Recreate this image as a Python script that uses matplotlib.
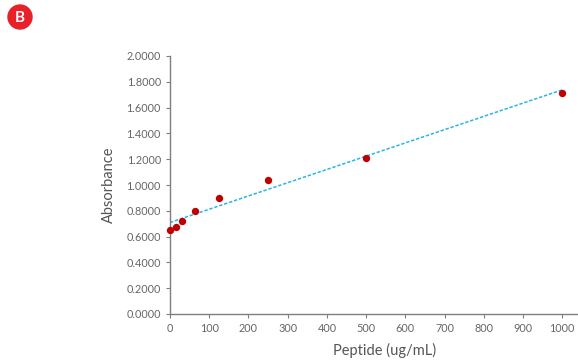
import numpy as np
import matplotlib
matplotlib.use("Agg")
import matplotlib.pyplot as plt
from matplotlib.patches import Circle

conc = [0, 15.625, 31.25, 62.5, 125, 250, 500, 1000]
absorb = [0.651, 0.677, 0.721, 0.796, 0.902, 1.039, 1.213, 1.717]
yticks = [0.0, 0.2, 0.4, 0.6, 0.8, 1.0, 1.2, 1.4, 1.6, 1.8, 2.0]
xticks = [0, 100, 200, 300, 400, 500, 600, 700, 800, 900, 1000]

plt.rcParams['font.family'] = ['Lato', 'DejaVu Sans']
grey = '#7f7f7f'

fig = plt.figure(figsize=(5.78, 3.62), dpi=100)
ax = fig.add_axes([170/578, 1-314/362, 408/578, 258/362])

slope, icpt = np.polyfit(conc, absorb, 1)
xl = np.array([0, 1000])
ax.plot(xl, slope*xl + icpt, linestyle=(0, (2.2, 1.2)), color='#29B5E8', lw=1.1, zorder=2)
ax.scatter(conc, absorb, s=28, color='#C00000', zorder=3, linewidths=0, clip_on=False)

ax.set_xlim(0, 1040)
ax.set_ylim(0, 2.0)
ax.set_xticks(xticks)
ax.set_yticks(yticks)
ax.set_yticklabels([f"{v:.4f}" for v in yticks])
ax.tick_params(axis='both', colors=grey, labelsize=7.8, length=3, width=0.8, labelcolor='#666666')
for s in ['top', 'right']:
    ax.spines[s].set_visible(False)
for s in ['left', 'bottom']:
    ax.spines[s].set_color(grey)
    ax.spines[s].set_linewidth(1.0)
ax.set_xlabel('Peptide (ug/mL)', fontsize=10.5, color='#555555')
ax.set_ylabel('Absorbance', fontsize=10.5, color='#555555')
ax.xaxis.set_label_coords((385-170)/408, -(343-314)/258)
ax.yaxis.set_label_coords(-(170-116)/408, (314-185)/258)

# badge
badge_ax = fig.add_axes([0, 1-40/362, 40/578, 40/362])
badge_ax.set_xlim(0, 40)
badge_ax.set_ylim(40, 0)
badge_ax.set_aspect('equal')
badge_ax.axis('off')
badge_ax.add_patch(Circle((20, 17), 12, color='#E8202A'))
badge_ax.text(20, 17.5, 'B', color='white', fontsize=11, fontweight='bold', ha='center', va='center')

fig.savefig('out.png', dpi=100)
